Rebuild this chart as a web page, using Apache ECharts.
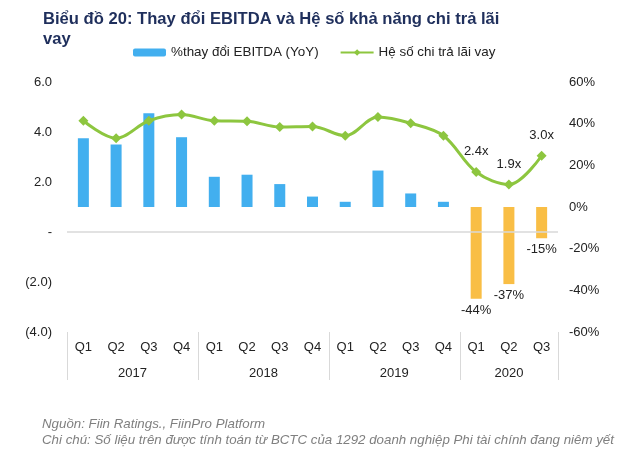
<!DOCTYPE html>
<html>
<head>
<meta charset="utf-8">
<script src="https://cdn.jsdelivr.net/npm/echarts@6/dist/echarts.min.js"></script>
<style>html,body{margin:0;padding:0;background:#fff;}#c{width:640px;height:460px;}</style>
</head>
<body>
<div id="c"></div>
<script>
var quarters = ['Q1','Q2','Q3','Q4','Q1','Q2','Q3','Q4','Q1','Q2','Q3','Q4','Q1','Q2','Q3'];
var years = ['2017','2018','2019','2020'];
var yearCenters = [2, 6, 10, 13.5];
var yearBounds = [0, 4, 8, 12, 15];
var ebitdaChange = [33, 30, 45, 33.5, 14.5, 15.5, 11, 5, 2.5, 17.5, 6.5, 2.5, -44, -37, -15];
var coverage = [4.45, 3.75, 4.45, 4.7, 4.45, 4.43, 4.2, 4.22, 3.85, 4.6, 4.35, 3.85, 2.4, 1.9, 3.05];
var labeledCoverage = [12, 13, 14];
var leftTicks = [-4, -2, 0, 2, 4, 6];
var rightTicks = [-60, -40, -20, 0, 20, 40, 60];

var FONT = 'Liberation Sans, Arial, sans-serif';
var chart = echarts.init(document.getElementById('c'));

var lineData = coverage.map(function (v, i) {
  return labeledCoverage.indexOf(i) >= 0 ? { value: v, label: { show: true } } : v;
});
var barData = ebitdaChange.map(function (v) {
  return v < 0
    ? { value: v, itemStyle: { color: '#F9BE45' }, label: { show: true } }
    : v;
});

chart.setOption({
  animation: false,
  textStyle: { fontFamily: FONT },
  title: [{
    text: 'Biểu đồ 20: Thay đổi EBITDA và Hệ số khả năng chi trả lãi\nvay',
    left: 38, top: 4,
    textStyle: { fontFamily: FONT, fontSize: 16.6, fontWeight: 'bold', color: '#1F2F5C', lineHeight: 20 }
  }, {
    text: 'Nguồn: Fiin Ratings., FiinPro Platform\nChi chú: Số liệu trên được tính toán từ BCTC của 1292 doanh nghiệp Phi tài chính đang niêm yết',
    left: 37, top: 411,
    textStyle: { fontFamily: FONT, fontSize: 13.3, fontStyle: 'italic', fontWeight: 'normal', color: '#7F7F7F', lineHeight: 16 }
  }],
  legend: {
    left: 128, top: 41,
    itemWidth: 33, itemHeight: 8, itemGap: 21,
    textStyle: { fontFamily: FONT, fontSize: 13.4, color: '#222' },
    data: ['%thay đổi EBITDA (YoY)', 'Hệ số chi trả lãi vay']
  },
  grid: { left: 67, right: 82, top: 82, bottom: 128, containLabel: false },
  xAxis: [{
    type: 'category',
    data: quarters,
    position: 'bottom',
    boundaryGap: true,
    axisLine: { show: false, onZero: false },
    axisTick: { show: false },
    splitLine: { show: false },
    axisLabel: { margin: 9, fontSize: 13, color: '#222', fontFamily: FONT, interval: 0 }
  }, {
    type: 'value',
    min: 0, max: 15,
    position: 'bottom',
    axisLine: { show: false, onZero: false },
    splitLine: { show: false },
    axisTick: { show: true, length: 48, customValues: yearBounds, lineStyle: { color: '#D9D9D9', width: 1 } },
    axisLabel: {
      customValues: yearCenters,
      margin: 35, fontSize: 13, color: '#222', fontFamily: FONT,
      formatter: function (v) {
        var i = yearCenters.indexOf(v);
        return i >= 0 ? years[i] : '';
      }
    }
  }],
  yAxis: [{
    type: 'value',
    min: leftTicks[0], max: leftTicks[leftTicks.length - 1], interval: 2,
    position: 'left',
    axisLine: { show: false }, axisTick: { show: false }, splitLine: { show: false },
    axisLabel: {
      margin: 15, fontSize: 13, color: '#222', fontFamily: FONT,
      formatter: function (v) {
        if (v === 0) return '-';
        return v < 0 ? '(' + Math.abs(v).toFixed(1) + ')' : v.toFixed(1);
      }
    }
  }, {
    type: 'value',
    min: rightTicks[0], max: rightTicks[rightTicks.length - 1], interval: 20,
    position: 'right',
    axisLine: { show: false }, axisTick: { show: false }, splitLine: { show: false },
    axisLabel: { margin: 11, fontSize: 13, color: '#222', fontFamily: FONT, formatter: '{value}%' }
  }],
  series: [{
    name: '%thay đổi EBITDA (YoY)',
    type: 'bar',
    xAxisIndex: 0,
    yAxisIndex: 1,
    barWidth: 11,
    data: barData,
    itemStyle: { color: '#42AFEF' },
    label: {
      show: false, position: 'bottom', distance: 5,
      fontSize: 13, color: '#222', fontFamily: FONT,
      formatter: function (p) { return Math.round(p.value) + '%'; }
    }
  }, {
    name: 'Hệ số chi trả lãi vay',
    type: 'line',
    xAxisIndex: 0,
    yAxisIndex: 0,
    smooth: 0.35,
    symbol: 'diamond',
    symbolSize: 10,
    data: lineData,
    lineStyle: { color: '#8DC63F', width: 3 },
    itemStyle: { color: '#8DC63F' },
    label: {
      show: false, position: 'top', distance: 9,
      fontSize: 13, color: '#222', fontFamily: FONT,
      formatter: function (p) { return p.value.toFixed(1) + 'x'; }
    },
    markLine: {
      silent: true,
      symbol: 'none',
      label: { show: false },
      lineStyle: { color: '#D9D9D9', type: 'solid', width: 1.5 },
      data: [{ yAxis: 0 }]
    },
    z: 5
  }]
});
</script>
</body>
</html>
